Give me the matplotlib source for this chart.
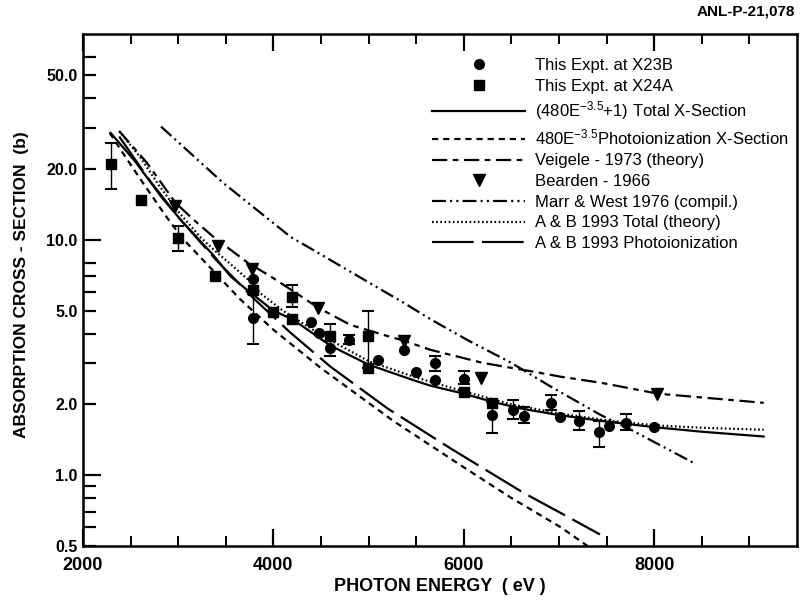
import numpy as np
import matplotlib
matplotlib.use('Agg')
from matplotlib import pyplot as plt
from matplotlib.lines import Line2D

plt.rcParams['font.family'] = ['Liberation Sans Narrow', 'Liberation Sans', 'DejaVu Sans']
plt.rcParams['mathtext.default'] = 'regular'
plt.rcParams['lines.scale_dashes'] = False

# photon energy in eV, cross section in barns

# This Expt. at X23B (circles)
x23b_e = [3790, 3790, 4390, 4480, 4590, 4790, 5100, 5370, 5500, 5700, 5700,
          6000, 6300, 6520, 6630, 6920, 7010, 7210, 7420, 7520, 7700, 8000]
x23b_y = [6.8, 4.67, 4.49, 4.03, 3.48, 3.76, 3.09, 3.39, 2.75, 3.0, 2.54,
          2.57, 1.80, 1.90, 1.79, 2.03, 1.77, 1.70, 1.53, 1.62, 1.67, 1.60]
x23b_err_e = [3790, 4590, 4790, 5700, 6000, 6300, 6520, 6630, 6920, 7210, 7420, 7700]
x23b_err_y = [4.67, 3.48, 3.76, 3.0, 2.57, 1.80, 1.90, 1.79, 2.03, 1.70, 1.53, 1.67]
x23b_err_lo = [3.6, 3.2, 3.6, 2.78, 2.45, 1.51, 1.74, 1.66, 1.9, 1.55, 1.32, 1.55]
x23b_err_hi = [5.9, 3.7, 3.95, 3.2, 2.78, 2.05, 2.08, 1.95, 2.2, 1.88, 1.7, 1.82]

# This Expt. at X24A (squares)
x24a_e = [2295, 2610, 3000, 3390, 3790, 4000, 4200, 4200, 4590, 4990, 4990, 6000, 6300]
x24a_y = [21.1, 14.8, 10.2, 7.05, 6.1, 4.95, 5.73, 4.62, 3.91, 3.91, 2.85, 2.26, 2.03]
x24a_err_e = [2295, 3000, 4200, 4590, 4990]
x24a_err_y = [21.1, 10.2, 5.73, 3.91, 3.91]
x24a_err_lo = [16.4, 9.0, 5.2, 3.7, 2.85]
x24a_err_hi = [25.9, 11.4, 6.4, 4.4, 5.0]

# (480E^-3.5 + 1) total cross section
total_e = [2290, 2550, 2830, 3040, 3370, 3550, 3730, 4000, 4200, 4600, 5000,
           5450, 5650, 6000, 6300, 6600, 7000, 7500, 8000, 8500, 9150]
total_y = [28.5, 21.5, 15.1, 12.0, 8.6, 7.0, 6.1, 5.0, 4.6, 3.55, 2.95,
           2.55, 2.4, 2.22, 2.05, 1.92, 1.80, 1.69, 1.60, 1.53, 1.46]

# 480E^-3.5 photoionization
photo_e = [2280, 2450, 2620, 2860, 3040, 3650, 4000, 4500, 5260, 6000, 6500, 7020, 7300]
photo_y = [28.5, 22.4, 17.7, 12.8, 10.2, 5.6, 4.15, 2.85, 1.7, 1.08, 0.80, 0.60, 0.50]

# Veigele 1973
veig_e = [2380, 2670, 2970, 3160, 3370, 3730, 3970, 4250, 4470, 4810, 5200,
          5370, 5650, 6200, 6740, 7020, 7440, 8040, 9150]
veig_y = [29.0, 21.3, 14.4, 12.2, 10.3, 8.0, 7.0, 5.9, 5.15, 4.35, 3.9,
          3.73, 3.41, 3.0, 2.75, 2.62, 2.47, 2.22, 2.03]

# Bearden 1966
bear_e = [2970, 3420, 3780, 4470, 5370, 6180, 8030]
bear_y = [13.9, 9.4, 7.5, 5.15, 3.73, 2.59, 2.22]

# Marr & West 1976
marr_e = [2820, 3470, 4180, 4390, 5000, 5370, 5650, 6040, 6500, 6920, 7440, 7730, 8410]
marr_y = [30.3, 17.5, 10.3, 9.2, 6.6, 5.4, 4.6, 3.75, 3.0, 2.37, 1.80, 1.58, 1.13]

# A & B 1993 total
abt_e = [2380, 2600, 2800, 3000, 3230, 3370, 3580, 3730, 3870, 4100, 4500,
         5000, 5500, 6000, 6500, 7000, 7500, 8000, 8500, 9150]
abt_y = [29.0, 22.5, 17.0, 13.2, 10.3, 9.1, 7.7, 6.8, 5.9, 5.0, 3.95,
         3.05, 2.6, 2.27, 2.0, 1.83, 1.71, 1.63, 1.59, 1.56]

# A & B 1993 photoionization
abp_e = [2380, 2700, 3000, 3400, 3800, 4180, 4600, 5200, 5860, 6630, 7020, 7430]
abp_y = [27.5, 17.9, 12.5, 8.2, 5.6, 4.03, 2.89, 1.92, 1.30, 0.84, 0.69, 0.56]

fig = plt.figure(figsize=(8.02, 6.01), dpi=100)
ax = fig.add_axes([83/802, 1-546/601, (797-83)/802, (546-34)/601])

lw = 1.6
ax.plot(total_e, total_y, color='k', lw=lw, ls='-')
ax.plot(photo_e, photo_y, color='k', lw=lw, dashes=(4.5, 3.5))
ax.plot(veig_e, veig_y, color='k', lw=lw, dashes=(11, 4, 4, 4))
ax.plot(marr_e, marr_y, color='k', lw=lw, dashes=(10, 3, 1.5, 3, 1.5, 3))
ax.plot(abt_e, abt_y, color='k', lw=lw, dashes=(1.2, 1.8))
ax.plot(abp_e, abp_y, color='k', lw=lw, dashes=(30, 6))

ax.errorbar(x23b_err_e, x23b_err_y,
            yerr=[np.subtract(x23b_err_y, x23b_err_lo), np.subtract(x23b_err_hi, x23b_err_y)],
            fmt='none', ecolor='k', elinewidth=1, capsize=4, capthick=1.5)
ax.errorbar(x24a_err_e, x24a_err_y,
            yerr=[np.subtract(x24a_err_y, x24a_err_lo), np.subtract(x24a_err_hi, x24a_err_y)],
            fmt='none', ecolor='k', elinewidth=1, capsize=4, capthick=1.5)
ax.plot(x23b_e, x23b_y, 'o', color='k', ms=7, ls='none')
ax.plot(x24a_e, x24a_y, 's', color='k', ms=6.5, ls='none')
ax.plot(bear_e, bear_y, 'v', color='k', ms=8, ls='none')

ax.set_yscale('log')
ax.set_xlim(2000, 9500)
ax.set_ylim(0.5, 75)

ax.set_yticks([0.5, 1, 2, 5, 10, 20, 50])
ax.set_yticklabels(['0.5', '1.0', '2.0', '5.0', '10.0', '20.0', '50.0'])
ax.set_yticks([0.6, 0.7, 0.8, 0.9, 3, 4, 6, 7, 8, 30, 40, 60], minor=True)
ax.yaxis.set_minor_formatter(plt.NullFormatter())
ax.set_xticks([2000, 4000, 6000, 8000])
ax.set_xticks([2500, 3000, 3500, 4500, 5000, 5500, 6500, 7000, 7500, 8500, 9000], minor=True)

ax.tick_params(axis='y', which='both', direction='in', length=9.4, width=1.6,
               left=True, right=False, labelsize=11.5, pad=4)
ax.tick_params(axis='x', which='major', direction='in', length=12, width=1.6,
               top=True, bottom=True, labelsize=13, pad=8)
ax.tick_params(axis='x', which='minor', direction='in', length=7, width=1.4,
               top=True, bottom=True)
for t, v in zip(ax.yaxis.get_major_ticks(), [0.5, 1, 2, 5, 10, 20, 50]):
    if v in (1, 10):
        t.tick1line.set_markersize(13)
for lab in ax.get_xticklabels() + ax.get_yticklabels():
    lab.set_fontweight('bold')

for s in ax.spines.values():
    s.set_linewidth(1.8)

ax.set_xlabel('PHOTON ENERGY  ( eV )', fontsize=13, fontweight='bold')
ax.xaxis.set_label_coords(0.5, -(578-546)/512)
ax.set_ylabel('ABSORPTION CROSS - SECTION  (b)', fontsize=12.5, fontweight='bold')
ax.yaxis.set_label_coords(-(83-29)/714, 0.51)

handles = [
    Line2D([], [], ls='none', marker='o', color='k', ms=7),
    Line2D([], [], ls='none', marker='s', color='k', ms=6.5),
    Line2D([], [], color='k', lw=lw, ls='-'),
    Line2D([], [], color='k', lw=lw, dashes=(4.5, 3.5)),
    Line2D([], [], color='k', lw=lw, dashes=(11, 4, 4, 4)),
    Line2D([], [], ls='none', marker='v', color='k', ms=8),
    Line2D([], [], color='k', lw=lw, dashes=(10, 3, 1.5, 3, 1.5, 3)),
    Line2D([], [], color='k', lw=lw, dashes=(1.2, 1.8)),
    Line2D([], [], color='k', lw=lw, dashes=(30, 6)),
]
labels = [
    'This Expt. at X23B',
    'This Expt. at X24A',
    '(480E$^{-3.5}$+1) Total X-Section',
    '480E$^{-3.5}$Photoionization X-Section',
    'Veigele - 1973 (theory)',
    'Bearden - 1966',
    'Marr & West 1976 (compil.)',
    'A & B 1993 Total (theory)',
    'A & B 1993 Photoionization',
]
ax.legend(handles, labels, loc='upper left', bbox_to_anchor=(432/802, 1-58/601),
          bbox_transform=fig.transFigure, frameon=False, fontsize=12,
          handlelength=5.6, handletextpad=0.6, labelspacing=0.34,
          borderpad=0, borderaxespad=0)

fig.text(795/802, 1-12/601, 'ANL-P-21,078', ha='right', va='center',
         fontsize=11, fontweight='bold')

fig.savefig('out.png', dpi=100)
